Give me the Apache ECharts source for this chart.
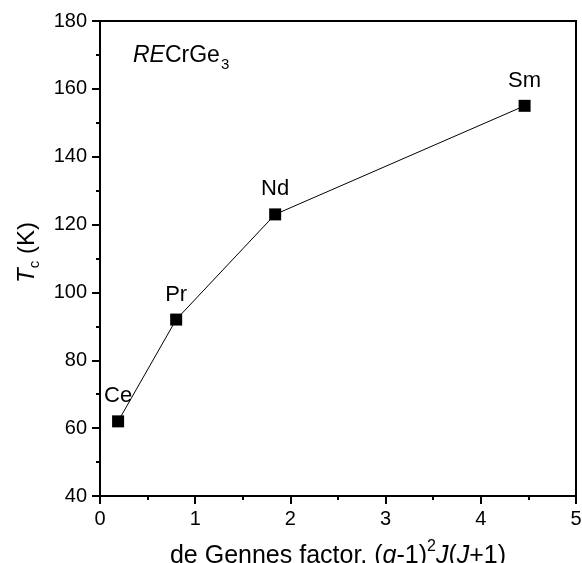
<!DOCTYPE html>
<html>
<head>
<meta charset="utf-8">
<script src="https://cdn.jsdelivr.net/npm/echarts@6/dist/echarts.min.js"></script>
<style>
  html, body { margin: 0; padding: 0; background: #fff; }
  #main { width: 582px; height: 563px; }
</style>
</head>
<body>
<div id="main"></div>
<script>
  // 稀土元素及 de Gennes 因子 / 居里温度
  var elements = ['Ce', 'Pr', 'Nd', 'Sm'];
  var deGennes = [0.19, 0.80, 1.84, 4.46];
  var tcValues = [62, 92, 123, 155];

  var font = 'Liberation Sans, Arial, sans-serif';
  var points = deGennes.map(function (x, i) { return [x, tcValues[i]]; });

  var myChart = echarts.init(document.getElementById('main'));

  var option = {
    backgroundColor: '#fff',
    animation: false,
    title: {
      text: '{i|RE}{n|CrGe}{s|3}',
      left: 128,
      top: 35,
      textStyle: {
        fontWeight: 'normal',
        rich: {
          i: { fontFamily: font, fontSize: 23, fontStyle: 'italic', fontWeight: 'normal', color: '#000', lineHeight: 32 },
          n: { fontFamily: font, fontSize: 23, fontWeight: 'normal', color: '#000', lineHeight: 32 },
          s: { fontFamily: font, fontSize: 15, fontWeight: 'normal', color: '#000', lineHeight: 15, verticalAlign: 'bottom', padding: [0, 0, 0, 1] }
        }
      }
    },
    grid: {
      left: 100,
      right: 6,
      top: 21,
      bottom: 67,
      outerBoundsMode: 'none',
      show: true,
      borderColor: '#000',
      borderWidth: 2
    },
    xAxis: {
      type: 'value',
      min: 0,
      max: 5,
      interval: 1,
      name: 'de Gennes factor, ({i|g}-1){sup|2}{i|J}({i|J}+1)',
      nameLocation: 'middle',
      nameGap: 43,
      nameTextStyle: {
        fontFamily: font,
        fontSize: 25,
        color: '#000',
        lineHeight: 34,
        rich: {
          i: { fontFamily: font, fontSize: 25, fontStyle: 'italic', color: '#000', lineHeight: 34 },
          sup: { fontFamily: font, fontSize: 16, color: '#000', lineHeight: 16, verticalAlign: 'top' }
        }
      },
      axisLine: { onZero: false, lineStyle: { color: '#000', width: 2 } },
      axisTick: { length: 8, lineStyle: { color: '#000', width: 2 } },
      minorTick: { show: true, splitNumber: 2, length: 4, lineStyle: { color: '#000', width: 2 } },
      axisLabel: { fontFamily: font, fontSize: 20, color: '#000', margin: 13 },
      splitLine: { show: false }
    },
    yAxis: {
      type: 'value',
      min: 40,
      max: 180,
      interval: 20,
      name: '{i|T}{s|c} (K)',
      nameLocation: 'middle',
      nameGap: 57,
      nameTextStyle: {
        fontFamily: font,
        fontSize: 24,
        color: '#000',
        lineHeight: 30,
        padding: [0, 0, 0, 12],
        rich: {
          i: { fontFamily: font, fontSize: 24, fontStyle: 'italic', color: '#000', lineHeight: 30 },
          s: { fontFamily: font, fontSize: 15, color: '#000', lineHeight: 15, verticalAlign: 'bottom' }
        }
      },
      axisLine: { onZero: false, lineStyle: { color: '#000', width: 2 } },
      axisTick: { length: 8, lineStyle: { color: '#000', width: 2 } },
      minorTick: { show: true, splitNumber: 2, length: 4, lineStyle: { color: '#000', width: 2 } },
      axisLabel: { fontFamily: font, fontSize: 20, color: '#000', margin: 13 },
      splitLine: { show: false }
    },
    series: [{
      type: 'line',
      data: points,
      symbol: 'rect',
      symbolSize: 12,
      showAllSymbol: true,
      lineStyle: { color: '#000', width: 1 },
      itemStyle: { color: '#000' },
      label: {
        show: true,
        position: 'top',
        distance: 8,
        fontFamily: font,
        fontSize: 22,
        color: '#000',
        formatter: function (p) { return elements[p.dataIndex]; }
      }
    }]
  };

  myChart.setOption(option);
</script>
</body>
</html>
